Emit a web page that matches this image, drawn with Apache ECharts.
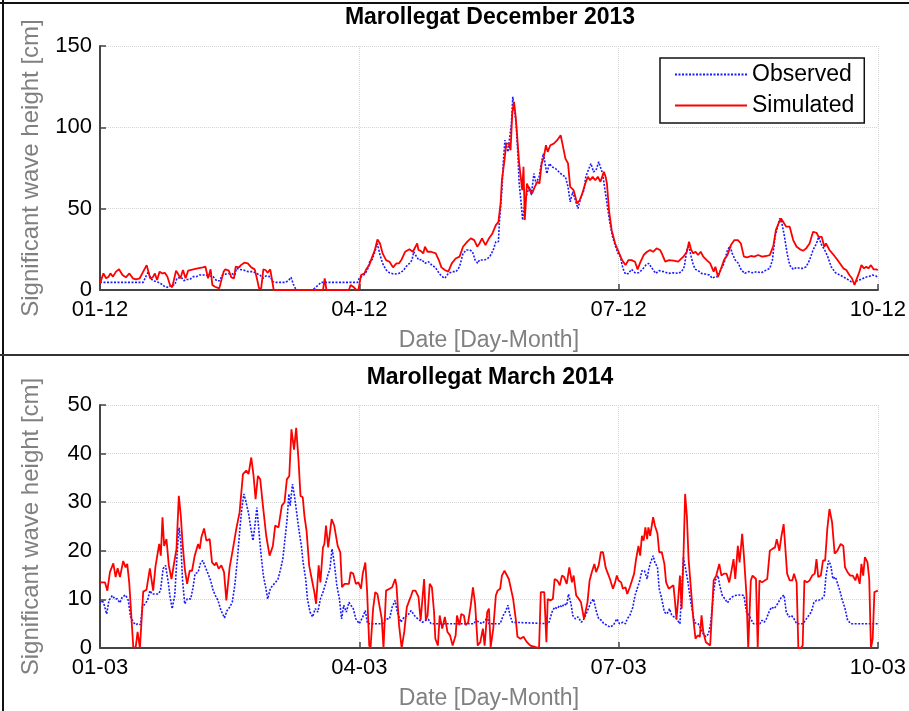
<!DOCTYPE html>
<html>
<head>
<meta charset="utf-8">
<script src="https://cdn.jsdelivr.net/npm/echarts@6/dist/echarts.min.js"></script>
<style>html,body{margin:0;padding:0;background:#fff}#c{width:909px;height:711px}</style>
</head>
<body>
<div id="c"></div>
<script>
// ---- Panel titles / labels ----
const titleDec = 'Marollegat December 2013';
const titleMar = 'Marollegat March 2014';
const yName = 'Significant wave height [cm]';
const xName = 'Date [Day-Month]';
const decTicks = ['01-12', '04-12', '07-12', '10-12'];
const marTicks = ['01-03', '04-03', '07-03', '10-03'];
const seriesNames = ['Observed', 'Simulated'];

// ---- December 2013: [day since 01-12, height cm] ----
const decObserved = [[0,4.7],[0.5,4.7],[0.53,8.2],[0.56,11.3],[0.585,7.2],[0.615,5.7],[0.66,5.1],[0.71,3.7],[0.75,2],[0.79,1.6],[0.83,3.1],[0.865,3.1],[0.89,7.2],[0.94,7.8],[0.97,5.7],[1.0,6.5],[1.04,6.5],[1.08,8.2],[1.115,8.2],[1.15,9.2],[1.21,9.2],[1.27,8.6],[1.31,8.2],[1.35,5.7],[1.385,5.7],[1.415,9.2],[1.46,9.8],[1.52,10.2],[1.56,9.2],[1.58,13.3],[1.615,12.7],[1.66,12.3],[1.71,11.3],[1.77,11.3],[1.81,10.2],[1.85,9.2],[1.885,7.2],[1.92,8.6],[1.97,8.2],[2.0,5.1],[2.04,4.7],[2.15,4.7],[2.185,6.1],[2.21,7.8],[2.24,3.1],[2.27,0],[2.46,0],[2.56,4.7],[2.98,4.7],[3.0,7.2],[3.04,8.6],[3.07,10.2],[3.1,13.3],[3.12,17.4],[3.15,18.8],[3.18,23.5],[3.21,28.6],[3.24,21.5],[3.27,16.4],[3.31,12.3],[3.35,10.6],[3.4,9.8],[3.46,10.2],[3.51,11.9],[3.54,14.3],[3.58,16.4],[3.61,18.4],[3.63,23.5],[3.65,21.5],[3.69,18.4],[3.72,18.8],[3.76,16.4],[3.8,17.4],[3.84,15.3],[3.88,13.9],[3.92,10.6],[3.95,8.6],[3.99,7.2],[4.03,10.2],[4.08,11.3],[4.12,11.3],[4.16,14.3],[4.2,22.5],[4.24,24.6],[4.28,24.6],[4.31,23.5],[4.34,18.4],[4.37,16.4],[4.39,18.4],[4.43,18.4],[4.47,18.8],[4.51,20.5],[4.55,24.6],[4.58,29.7],[4.61,29.7],[4.62,40.9],[4.65,61.4],[4.665,77.8],[4.685,92.1],[4.7,89],[4.72,84.9],[4.74,85.9],[4.76,102.3],[4.776,118.7],[4.796,119.1],[4.815,102.3],[4.835,82.9],[4.85,65.5],[4.873,53.2],[4.89,43],[4.915,53.2],[4.94,59.3],[4.97,63.4],[4.99,58.3],[5.02,71.6],[5.045,65.5],[5.08,69.6],[5.11,78.8],[5.13,83.9],[5.145,82.9],[5.17,71.6],[5.2,77.8],[5.23,75.7],[5.27,74.7],[5.31,72.6],[5.35,70.6],[5.385,69.6],[5.415,63.4],[5.44,54.2],[5.47,60.4],[5.5,55.2],[5.53,50.1],[5.56,56.3],[5.6,61.4],[5.62,69.6],[5.65,73.7],[5.68,77.8],[5.71,72.6],[5.74,73.7],[5.77,78.8],[5.79,78.8],[5.815,71.6],[5.85,59],[5.88,48],[5.9,41],[5.93,32.7],[5.96,27.6],[5.99,22.9],[6.02,20.5],[6.05,13.3],[6.08,9.8],[6.115,10.2],[6.15,12.7],[6.19,10.6],[6.23,10.6],[6.27,12.3],[6.315,15.3],[6.35,16.4],[6.38,13.9],[6.4,13.3],[6.43,10.2],[6.47,11.9],[6.52,11.3],[6.58,10.2],[6.635,10.6],[6.69,10.2],[6.73,11.3],[6.76,14.3],[6.79,24.6],[6.815,26.6],[6.84,20.5],[6.865,15.3],[6.89,12.7],[6.92,11.9],[6.96,10.2],[7.0,9.8],[7.05,9.2],[7.085,7.2],[7.115,8.2],[7.15,8.2],[7.18,12.3],[7.22,16.4],[7.26,24.6],[7.29,27],[7.315,22.5],[7.35,18.4],[7.385,16.4],[7.42,12.3],[7.46,10.2],[7.5,11.3],[7.55,10.6],[7.6,11.3],[7.65,10.6],[7.71,12.3],[7.75,13.3],[7.78,18.4],[7.81,32.7],[7.84,38.9],[7.865,44],[7.89,40.9],[7.92,32.7],[7.95,22.5],[7.98,15.3],[8.02,12.7],[8.06,13.9],[8.1,13.3],[8.135,13.3],[8.17,14.3],[8.21,18.4],[8.25,24.6],[8.29,28.6],[8.315,32.7],[8.35,27.6],[8.385,24.6],[8.42,20.5],[8.46,14.3],[8.51,10.6],[8.56,9.2],[8.61,7.8],[8.65,6.5],[8.69,5.1],[8.73,4.5],[8.77,6.1],[8.81,6.5],[8.85,7.8],[8.89,8.2],[8.94,9.2],[8.98,8.6],[9.0,7.2]];

const decSimulated = [[0,4.1],[0.04,10.2],[0.07,7.2],[0.1,8.2],[0.12,10.2],[0.15,8.2],[0.185,11.3],[0.22,12.7],[0.26,9.2],[0.3,7.8],[0.34,10.2],[0.38,7.2],[0.415,6.5],[0.46,7.2],[0.5,11.3],[0.54,15.3],[0.58,7.2],[0.61,7.8],[0.635,10.2],[0.66,6.1],[0.69,11.3],[0.72,10.2],[0.75,10.6],[0.78,8.2],[0.81,3.1],[0.835,1.6],[0.85,2.5],[0.88,11.9],[0.9,10.2],[0.93,7.2],[0.96,12.3],[0.99,7.2],[1.02,11.9],[1.04,12.7],[1.08,12.7],[1.13,13.3],[1.19,13.9],[1.22,14.3],[1.25,7.2],[1.28,12.7],[1.3,3.1],[1.33,2],[1.38,1],[1.4,0],[1.43,11.3],[1.45,12.7],[1.49,11.9],[1.52,7.8],[1.55,7.2],[1.57,14.3],[1.61,13.9],[1.63,15.3],[1.67,16.8],[1.71,16.4],[1.75,13.9],[1.79,12.7],[1.815,7.2],[1.84,1],[1.865,1],[1.89,12.7],[1.915,12.3],[1.94,10.6],[1.97,12.7],[1.99,13.3],[2.01,0],[2.17,0],[2.19,1],[2.21,0],[2.58,0],[2.6,7.2],[2.62,0],[2.88,0],[2.9,3.1],[2.93,2],[2.96,0.4],[2.99,0],[3.02,9.2],[3.06,10.2],[3.08,12.7],[3.115,15.3],[3.15,20.5],[3.18,24.6],[3.21,31.1],[3.24,28.6],[3.27,22.5],[3.31,18.4],[3.35,17.4],[3.39,13.9],[3.43,16.4],[3.46,16.4],[3.49,18.8],[3.53,23.5],[3.58,25],[3.62,23.5],[3.65,26.6],[3.67,28.6],[3.685,24.6],[3.71,24.1],[3.74,22.5],[3.76,26.6],[3.79,23.5],[3.83,23.5],[3.85,22.5],[3.885,22.5],[3.92,18.4],[3.95,13.9],[3.99,12.3],[4.03,11.3],[4.07,16.4],[4.115,19.4],[4.16,20.5],[4.2,26.6],[4.25,29.7],[4.29,31.7],[4.33,30.7],[4.365,26.6],[4.39,28.6],[4.42,31.7],[4.46,27.6],[4.5,31.7],[4.54,34.8],[4.58,39.9],[4.61,41.9],[4.635,53.2],[4.65,67.5],[4.68,79.8],[4.7,90],[4.73,90],[4.75,85.9],[4.77,108.5],[4.79,115.6],[4.81,106.4],[4.83,92.1],[4.85,77.8],[4.865,77.8],[4.885,61.4],[4.9,75.7],[4.915,43],[4.94,65.5],[4.97,61.4],[5.0,59.3],[5.03,63.4],[5.06,66.5],[5.085,65.5],[5.11,77.8],[5.135,81.8],[5.16,89],[5.18,84.9],[5.21,89],[5.25,90],[5.29,92.1],[5.33,95.1],[5.35,90],[5.385,80.8],[5.415,77.8],[5.44,63.4],[5.48,61.4],[5.52,53.2],[5.55,55.2],[5.58,59.3],[5.615,65.5],[5.645,69.6],[5.67,67.5],[5.7,69.6],[5.73,67.5],[5.76,69.6],[5.79,66.5],[5.83,72.6],[5.85,69.6],[5.865,65.5],[5.89,48.7],[5.92,36.8],[5.96,28.6],[6.0,23.5],[6.04,18.4],[6.08,15.3],[6.115,18.4],[6.15,18.4],[6.19,17.4],[6.22,12.7],[6.25,16.8],[6.29,21.5],[6.33,23.5],[6.365,24.6],[6.4,23.5],[6.44,25.6],[6.48,24.6],[6.5,22.5],[6.54,17.4],[6.585,18.4],[6.635,18],[6.69,17.4],[6.75,20.5],[6.79,23.5],[6.815,29.7],[6.84,24.6],[6.865,22.5],[6.89,23.5],[6.92,21.5],[6.95,23.5],[6.98,20.5],[7.02,18.4],[7.06,16.4],[7.1,11.3],[7.12,14.3],[7.15,8.2],[7.18,12.3],[7.22,18.4],[7.26,21.5],[7.3,27.6],[7.34,30.7],[7.38,30.7],[7.415,28.6],[7.45,20.5],[7.49,20.1],[7.53,20.9],[7.57,20.5],[7.615,21.5],[7.66,20.5],[7.71,20.9],[7.75,21.5],[7.79,27],[7.82,36.8],[7.85,40.9],[7.88,44],[7.9,43],[7.94,38.9],[7.98,38.9],[8.02,30.7],[8.06,26.6],[8.1,25],[8.135,24.1],[8.17,25.6],[8.21,28.6],[8.25,35.8],[8.29,35.2],[8.315,32.7],[8.35,32.7],[8.38,26.6],[8.4,28.6],[8.44,24.6],[8.48,22.1],[8.52,19.4],[8.56,16.4],[8.6,13.3],[8.635,12.3],[8.67,9.2],[8.7,7.2],[8.73,3.1],[8.75,6.1],[8.78,10.2],[8.81,15.3],[8.84,13.3],[8.865,14.3],[8.89,13.3],[8.92,15.3],[8.95,12.7],[8.98,12.7],[9.0,12.3]];

// ---- March 2014: [day since 01-03, height cm] ----
const marObserved = [[0,9.4],[0.027,9.8],[0.05,8.8],[0.077,7],[0.104,9.8],[0.142,10.8],[0.173,10.1],[0.2,10.1],[0.23,9.3],[0.258,10.5],[0.296,10.9],[0.327,9.8],[0.354,6.4],[0.385,5.3],[0.412,4.8],[0.442,5],[0.469,4.8],[0.49,8.4],[0.52,9.1],[0.55,9.8],[0.577,11.8],[0.604,11.1],[0.635,11.1],[0.673,11.1],[0.7,11.8],[0.73,16.3],[0.758,17],[0.79,13.5],[0.808,10.8],[0.835,8.1],[0.865,10.8],[0.896,20.4],[0.915,24.8],[0.935,21.8],[0.954,14.2],[0.98,9.1],[1.01,10.1],[1.05,10.1],[1.077,12.5],[1.1,15.3],[1.135,15.6],[1.165,17.6],[1.19,18],[1.22,16.6],[1.25,15.3],[1.28,13.9],[1.31,11.8],[1.335,10.8],[1.365,9.8],[1.4,7.7],[1.42,7],[1.44,6.2],[1.47,7.7],[1.5,8.4],[1.53,9.4],[1.56,12.9],[1.59,18.3],[1.615,23.8],[1.64,28.6],[1.665,31.7],[1.69,30],[1.72,27.6],[1.74,25.2],[1.77,22.1],[1.79,24.8],[1.815,28.9],[1.84,23.8],[1.865,19],[1.89,14.9],[1.92,12.2],[1.94,10.1],[1.97,12.2],[2.0,12.9],[2.03,13.5],[2.06,14.2],[2.09,16.3],[2.115,18.3],[2.14,22.4],[2.165,26.5],[2.185,31.7],[2.2,29.3],[2.227,33.7],[2.25,31.3],[2.27,28.6],[2.3,24.5],[2.33,21],[2.35,17.6],[2.38,14.2],[2.4,10.1],[2.43,7.4],[2.46,6.4],[2.49,8.1],[2.52,7.4],[2.55,10.1],[2.58,11.5],[2.61,13.2],[2.635,14.9],[2.66,16.3],[2.685,20.4],[2.71,17.6],[2.74,12.9],[2.77,10.1],[2.795,6],[2.82,8.8],[2.85,7.4],[2.88,9.4],[2.9,9.8],[2.93,8.1],[2.96,6],[3.0,5],[3.04,6.4],[3.07,7.7],[3.095,5],[3.27,5],[3.31,6],[3.35,6],[3.38,8.4],[3.415,9.8],[3.44,7.4],[3.48,5.3],[3.52,6.4],[3.56,6.7],[3.6,7.7],[3.62,8.1],[3.65,6.4],[3.7,5.7],[3.73,5.3],[3.77,5.7],[3.8,5.9],[3.83,5],[4.33,5],[4.35,6],[4.38,5.3],[4.42,5],[4.46,5.7],[4.48,6.5],[4.5,5],[4.63,5],[4.665,6.7],[4.69,7.4],[4.72,8.8],[4.74,7],[4.77,5.3],[4.79,5],[5.19,5],[5.23,7.4],[5.26,8.4],[5.29,8.1],[5.32,8.8],[5.345,8.4],[5.37,9.1],[5.4,8.8],[5.42,11.1],[5.45,9.1],[5.47,6.7],[5.5,6],[5.53,6.4],[5.55,6.7],[5.57,5.3],[5.6,6],[5.62,6],[5.65,8.1],[5.68,9.4],[5.71,10.1],[5.74,7.7],[5.77,6],[5.8,5.7],[5.83,5],[5.865,4.7],[5.9,4.3],[5.94,4.7],[5.98,6],[6.01,5],[6.05,5.3],[6.08,5],[6.1,6],[6.13,6.7],[6.165,8.4],[6.19,10.8],[6.22,12.5],[6.24,13.5],[6.27,15.9],[6.3,15.9],[6.33,14.2],[6.35,16.3],[6.37,17.6],[6.4,19],[6.42,17.6],[6.45,16.6],[6.47,12.2],[6.5,10.1],[6.53,7.4],[6.56,7],[6.59,8.1],[6.615,6.7],[6.64,6.4],[6.67,6],[6.71,5],[6.72,5.3],[6.75,18.7],[6.77,18.3],[6.8,13.9],[6.83,10.1],[6.855,7.4],[6.88,5.2],[6.92,5],[6.95,4],[6.98,2.9],[7.01,2.3],[7.04,2.9],[7.065,5],[7.1,11.5],[7.12,13.9],[7.15,14.9],[7.17,12.9],[7.2,10.8],[7.23,10.1],[7.26,9.3],[7.29,10.1],[7.315,10.5],[7.35,10.8],[7.38,10.9],[7.42,10.9],[7.45,10.8],[7.48,7.4],[7.51,6.7],[7.53,6.7],[7.56,5],[7.635,5],[7.66,5.7],[7.685,5.3],[7.71,6],[7.74,7.4],[7.77,8.4],[7.8,8.1],[7.83,8.8],[7.85,8.4],[7.885,10.5],[7.915,10.9],[7.94,7.4],[7.97,6.4],[8.0,6.7],[8.03,6],[8.06,5],[8.135,5],[8.16,5.7],[8.2,6.7],[8.23,7.4],[8.26,9.4],[8.29,9.8],[8.315,9.8],[8.35,10.1],[8.38,10.8],[8.4,14.9],[8.43,18],[8.455,17],[8.48,14.2],[8.51,14.6],[8.53,14.9],[8.56,11.8],[8.585,10.1],[8.62,8.1],[8.65,5.7],[8.67,6],[8.69,5],[9.0,5]];

const marSimulated = [[0,13.5],[0.058,13.5],[0.085,11.8],[0.115,15.6],[0.154,17.4],[0.181,14.6],[0.204,16.4],[0.231,14.6],[0.269,17.9],[0.296,16.6],[0.315,17.3],[0.338,13.5],[0.358,13.5],[0.385,0.2],[0.412,0],[0.435,3.3],[0.462,0],[0.5,11.6],[0.538,12],[0.577,16.4],[0.615,11.8],[0.642,16.8],[0.665,16.6],[0.685,21.4],[0.704,19],[0.723,26.9],[0.742,21],[0.769,22.4],[0.796,17],[0.827,14.2],[0.865,18.3],[0.885,20.4],[0.912,31.3],[0.935,27.2],[0.954,21.8],[0.981,16.3],[1.008,13.2],[1.038,15.9],[1.065,15.9],[1.096,19],[1.135,21.4],[1.154,20.4],[1.173,22.8],[1.204,24.6],[1.231,22.1],[1.269,22.4],[1.296,17.6],[1.327,17],[1.346,17.6],[1.373,16.3],[1.404,17],[1.435,15.6],[1.462,9.8],[1.5,16.6],[1.538,20.4],[1.577,24.5],[1.615,27.9],[1.654,35.8],[1.692,36.5],[1.719,35.8],[1.75,39.2],[1.777,35.4],[1.8,30.6],[1.827,35.4],[1.854,34.7],[1.885,29.3],[1.923,23.1],[1.962,19],[2.0,21],[2.027,25.2],[2.065,24.8],[2.104,29.3],[2.135,30],[2.162,34.7],[2.19,35.4],[2.215,45],[2.245,40.8],[2.27,45.3],[2.296,38.9],[2.32,31.3],[2.346,31],[2.365,27.2],[2.39,24.1],[2.42,17],[2.45,14.2],[2.48,11.5],[2.5,9.1],[2.53,17],[2.55,13.5],[2.58,20.7],[2.596,21.4],[2.615,25.2],[2.64,20.7],[2.66,20.4],[2.68,26.5],[2.71,25.2],[2.75,21],[2.78,19.7],[2.8,12.5],[2.83,13.2],[2.85,13.5],[2.88,13.2],[2.9,15.6],[2.93,15.3],[2.96,13.2],[2.99,13.5],[3.02,12.2],[3.04,15.3],[3.07,17.6],[3.09,11.8],[3.115,0.5],[3.13,0],[3.16,8.1],[3.185,11.5],[3.21,11.1],[3.23,11.5],[3.26,6],[3.28,0],[3.31,11.8],[3.33,11.8],[3.35,12.2],[3.38,12.5],[3.415,14.2],[3.43,12.9],[3.46,4.7],[3.49,0],[3.52,3.3],[3.55,8.4],[3.57,8.1],[3.6,10.8],[3.62,11.8],[3.65,11.8],[3.685,10.5],[3.71,5.7],[3.73,6],[3.75,14.2],[3.77,5.7],[3.79,6.7],[3.815,13.2],[3.84,12.5],[3.865,7.4],[3.88,1.9],[3.91,0.5],[3.93,6.7],[3.96,4],[3.99,6.4],[4.02,3.3],[4.05,2.6],[4.08,0.5],[4.115,2.6],[4.13,6.7],[4.16,4.7],[4.18,7],[4.21,6.7],[4.23,4.7],[4.26,5.3],[4.29,8.8],[4.315,12.5],[4.34,9.1],[4.37,0.5],[4.4,1.2],[4.43,4],[4.45,0.5],[4.48,7.4],[4.5,8.1],[4.52,0.2],[4.55,4],[4.58,10.8],[4.6,11.8],[4.63,12.2],[4.65,14.9],[4.68,15.9],[4.7,16.3],[4.73,14.2],[4.75,14.6],[4.78,10.1],[4.81,6],[4.83,2.3],[4.865,1.9],[4.9,2.3],[4.94,1.2],[4.98,0.5],[5.04,0.2],[5.08,0],[5.1,11.5],[5.12,11.1],[5.14,11.5],[5.165,1.2],[5.18,10.1],[5.21,9.8],[5.24,10.1],[5.26,14.2],[5.29,13.9],[5.32,12.9],[5.345,14.9],[5.37,14.6],[5.4,13.2],[5.43,16.6],[5.46,13.5],[5.48,14.9],[5.51,10.8],[5.54,10.1],[5.565,9.4],[5.6,6],[5.62,5.7],[5.64,9.4],[5.665,13.9],[5.69,15.6],[5.72,17.3],[5.74,15.6],[5.77,17],[5.795,19.7],[5.82,19.7],[5.85,16.6],[5.87,15.6],[5.9,14.2],[5.935,12.2],[5.96,13.5],[5.98,14.9],[6.0,13.9],[6.03,13.5],[6.05,12.2],[6.08,12.5],[6.1,11.1],[6.13,12.5],[6.155,13.9],[6.18,15.3],[6.2,18],[6.23,21],[6.25,19],[6.27,23.1],[6.29,22.1],[6.31,24.8],[6.33,22.4],[6.345,24.8],[6.365,23.1],[6.4,26.9],[6.42,25.2],[6.45,23.5],[6.47,19.7],[6.5,19.7],[6.53,17.3],[6.55,13.5],[6.58,12.2],[6.6,12.5],[6.635,12.9],[6.65,10.1],[6.67,6],[6.69,10.1],[6.71,14.9],[6.73,8.1],[6.75,18.3],[6.77,31.7],[6.79,27.2],[6.81,18.3],[6.84,11.5],[6.865,6],[6.89,1.9],[6.915,2.6],[6.94,2.3],[6.96,6.7],[6.98,3.3],[7.01,1.2],[7.03,1.2],[7.06,0.5],[7.08,0.9],[7.1,13.9],[7.13,14.9],[7.165,17.3],[7.19,14.9],[7.22,15.3],[7.25,15.3],[7.28,13.5],[7.3,15.3],[7.33,18.3],[7.35,14.2],[7.38,21],[7.4,17.6],[7.43,23.5],[7.45,19],[7.48,10.8],[7.5,0],[7.53,13.9],[7.55,14.9],[7.57,14.6],[7.59,14.2],[7.61,0],[7.63,13.9],[7.66,13.5],[7.69,13.9],[7.72,14.2],[7.75,20],[7.78,20.4],[7.81,20.7],[7.83,22.4],[7.86,20],[7.885,23.1],[7.91,25.5],[7.93,20.4],[7.95,15.3],[7.98,13.9],[8.01,13.9],[8.03,15.3],[8.06,13.5],[8.08,0],[8.11,0],[8.13,0.5],[8.15,13.9],[8.18,13.5],[8.21,13.9],[8.24,14.9],[8.27,15.3],[8.29,18.3],[8.31,14.6],[8.34,14.9],[8.365,18],[8.39,18],[8.415,24.5],[8.44,28.6],[8.47,25.9],[8.5,19.4],[8.53,20],[8.55,19.7],[8.57,21.4],[8.6,21],[8.62,16.6],[8.65,15.6],[8.68,14.9],[8.71,14.9],[8.74,13.9],[8.76,15.3],[8.79,13.2],[8.81,17.3],[8.83,14.9],[8.85,18.7],[8.88,17.6],[8.9,14.2],[8.92,0],[8.94,1.9],[8.96,11.5],[8.98,11.8],[9.0,11.8]];

// ---- rendering ----
const FONT = '"Liberation Sans", Arial, sans-serif';
const chart = echarts.init(document.getElementById('c'), null, {renderer: 'canvas'});

function xAx(gi, ticks) {
  return {
    type: 'value', gridIndex: gi, min: 0, max: 9, interval: 3,
    name: xName, nameLocation: 'middle', nameGap: 39,
    nameTextStyle: {fontSize: 23, color: '#808080', fontFamily: FONT},
    axisLine: {show: true, onZero: false, lineStyle: {color: '#444', width: 2}},
    axisTick: {show: true, inside: true, length: 6, lineStyle: {color: '#444', width: 1.5}},
    axisLabel: {fontSize: 22, color: '#000', margin: 9, fontFamily: FONT,
      formatter: v => ticks[Math.round(v / 3)]},
    splitLine: {show: true, lineStyle: {color: '#d4d4d4', type: 'dotted', width: 1}}
  };
}
function yAx(gi, max, interval) {
  return {
    type: 'value', gridIndex: gi, min: 0, max: max, interval: interval,
    name: yName, nameLocation: 'middle', nameGap: 57,
    nameTextStyle: {fontSize: 24, color: '#808080', fontFamily: FONT},
    axisLine: {show: true, lineStyle: {color: '#444', width: 2}},
    axisTick: {show: true, inside: true, length: 6, lineStyle: {color: '#444', width: 1.5}},
    axisLabel: {fontSize: 22, color: '#000', margin: 8, fontFamily: FONT},
    splitLine: {show: true, lineStyle: {color: '#d4d4d4', type: 'dotted', width: 1}}
  };
}
function obs(gi, data) {
  return {name: seriesNames[0], type: 'line', xAxisIndex: gi, yAxisIndex: gi, data: data,
    symbol: 'none', showSymbol: false, clip: true, z: 2,
    lineStyle: {color: '#1a1aff', width: 1.6, type: [2, 1.5]}, itemStyle: {color: '#1a1aff'}};
}
function sim(gi, data) {
  return {name: seriesNames[1], type: 'line', xAxisIndex: gi, yAxisIndex: gi, data: data,
    symbol: 'none', showSymbol: false, clip: true, z: 3,
    lineStyle: {color: '#ff0000', width: 1.8}, itemStyle: {color: '#ff0000'}};
}

chart.setOption({
  animation: false,
  backgroundColor: '#fff',
  textStyle: {fontFamily: FONT},
  grid: [
    {left: 100, right: 29, top: 46, height: 244},
    {left: 100, right: 29, top: 405, height: 244}
  ],
  xAxis: [xAx(0, decTicks), xAx(1, marTicks)],
  yAxis: [yAx(0, 150, 50), yAx(1, 50, 10)],
  legend: {
    data: seriesNames,
    orient: 'vertical', left: 660, top: 58,
    backgroundColor: '#fff', borderColor: '#111', borderWidth: 1.5,
    padding: [5, 10, 6, 14], itemWidth: 72, itemHeight: 14, itemGap: 8,
    itemStyle: {opacity: 0},
    textStyle: {fontSize: 23, color: '#000', fontFamily: FONT}
  },
  graphic: [
    {type: 'line', shape: {x1: 3, y1: 0, x2: 3, y2: 711}, style: {stroke: '#111', lineWidth: 2}, z: 100},
    {type: 'line', shape: {x1: 0, y1: 3, x2: 909, y2: 3}, style: {stroke: '#111', lineWidth: 2}, z: 100},
    {type: 'line', shape: {x1: 0, y1: 355, x2: 909, y2: 355}, style: {stroke: '#333', lineWidth: 2}, z: 100},
    {type: 'text', x: 490, y: 18, z: 100, style: {text: titleDec, textAlign: 'center', textVerticalAlign: 'middle', font: 'bold 23px ' + FONT, fill: '#000'}},
    {type: 'text', x: 490, y: 378, z: 100, style: {text: titleMar, textAlign: 'center', textVerticalAlign: 'middle', font: 'bold 23px ' + FONT, fill: '#000'}}
  ],
  series: [obs(0, decObserved), sim(0, decSimulated), obs(1, marObserved), sim(1, marSimulated)]
});
</script>
</body>
</html>
